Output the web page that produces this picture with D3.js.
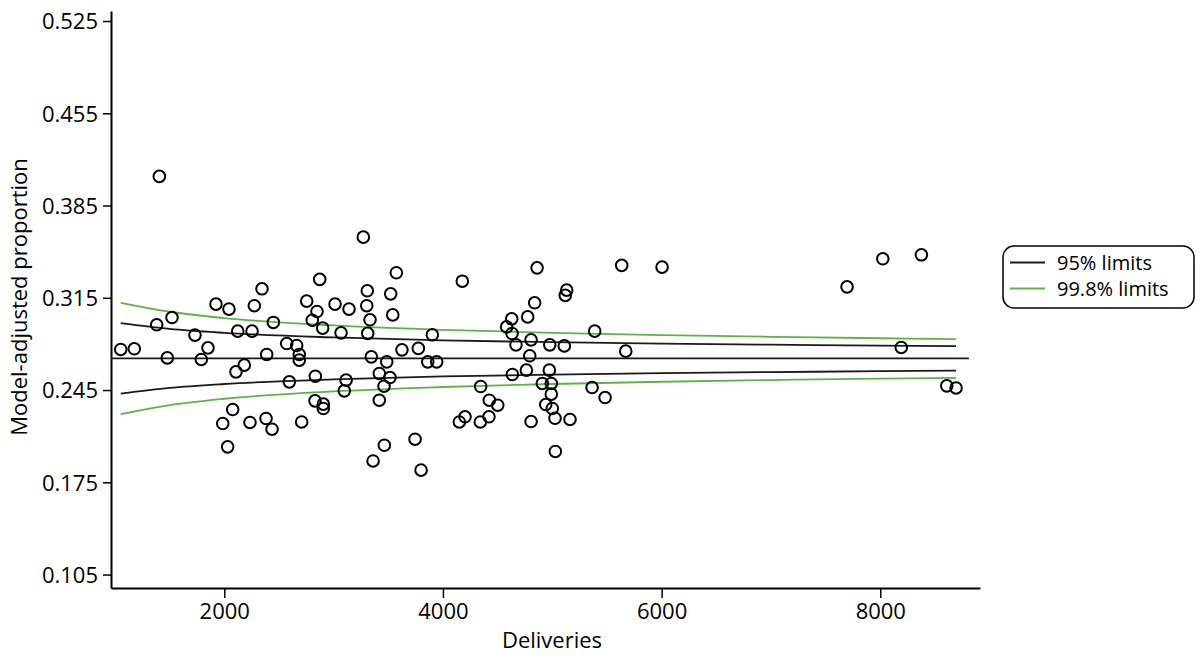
<!DOCTYPE html>
<html>
<head>
<meta charset="utf-8">
<script src="https://cdn.jsdelivr.net/npm/d3@7"></script>
<style>
  body { margin: 0; background: #fff; }
  svg { display: block; font-family: "Open Sans", "Noto Sans", sans-serif; }
</style>
</head>
<body>
<div id="chart"></div>
<script>
const width = 1203
    , height = 655
    , lineBlack = '#1a1a1a'
    , lineGreen = '#5db446'
    , fontSize = '22px'
    ;

// units: deliveries per unit, model-adjusted proportion
const deliveries = [
  1406, 3272, 3574, 2873, 2345, 3308, 3522, 1924, 2043, 2275,
  2754, 3013, 3141, 3303, 2848, 2805, 3333, 3541, 1522, 1382,
  2449, 2900, 3312, 3068, 1732, 2123, 2254, 1053, 1177, 1479,
  1790, 1851, 2571, 2662, 2388, 2686, 2686, 3625, 3345, 3486,
  2183, 2107, 3418, 3516, 3461, 2595, 2833, 3114, 3098, 3418,
  2830, 2906, 2906, 2077, 1986, 2235, 2382, 2437, 2708, 2031,
  3464, 3361, 3903, 3775, 3861, 3943, 3745, 3800, 4177, 4861,
  5132, 5119, 4839, 4775, 4629, 4583, 4632, 5388, 4668, 4806,
  4977, 5110, 4794, 4635, 4763, 4973, 4909, 4991, 4991, 5364,
  4345, 4424, 4501, 4421, 4202, 4150, 4342, 4940, 5000, 5025,
  4806, 5162, 5028, 5635, 6004, 5672, 5483, 7696, 8023, 8376,
  8192, 8608, 8693
];
const proportion = [
  0.4071, 0.3610, 0.3340, 0.3290, 0.3218, 0.3203, 0.3180, 0.3102, 0.3064, 0.3090,
  0.3125, 0.3102, 0.3064, 0.3090, 0.3046, 0.2980, 0.2983, 0.3020, 0.3000, 0.2945,
  0.2963, 0.2920, 0.2880, 0.2884, 0.2867, 0.2897, 0.2897, 0.2758, 0.2763, 0.2694,
  0.2682, 0.2770, 0.2803, 0.2788, 0.2720, 0.2720, 0.2677, 0.2755, 0.2702, 0.2664,
  0.2639, 0.2588, 0.2576, 0.2545, 0.2479, 0.2512, 0.2555, 0.2525, 0.2444, 0.2373,
  0.2368, 0.2343, 0.2310, 0.2302, 0.2196, 0.2204, 0.2234, 0.2153, 0.2208, 0.2019,
  0.2031, 0.1912, 0.2869, 0.2766, 0.2664, 0.2664, 0.2077, 0.1842, 0.3276, 0.3377,
  0.3208, 0.3168, 0.3112, 0.3005, 0.2990, 0.2929, 0.2879, 0.2897, 0.2793, 0.2831,
  0.2793, 0.2785, 0.2710, 0.2568, 0.2601, 0.2601, 0.2500, 0.2500, 0.2419, 0.2469,
  0.2477, 0.2373, 0.2335, 0.2247, 0.2247, 0.2208, 0.2208, 0.2340, 0.2310, 0.2236,
  0.2211, 0.2227, 0.1984, 0.3396, 0.3383, 0.2745, 0.2393, 0.3233, 0.3446, 0.3476,
  0.2773, 0.2482, 0.2466
];

// funnel limits
const limitX    = [1053, 1500, 2000, 3000, 4000, 5000, 6000, 7000, 8000, 8693];
const upper95   = [0.2958, 0.2914, 0.2884, 0.2849, 0.2827, 0.2813, 0.2802, 0.2794, 0.2787, 0.2783];
const lower95   = [0.2422, 0.2466, 0.2496, 0.2531, 0.2553, 0.2567, 0.2578, 0.2586, 0.2593, 0.2597];
const upper998  = [0.3112, 0.3044, 0.2996, 0.2940, 0.2907, 0.2884, 0.2867, 0.2854, 0.2843, 0.2837];
const lower998  = [0.2268, 0.2336, 0.2384, 0.2440, 0.2473, 0.2496, 0.2513, 0.2526, 0.2537, 0.2543];
const centreX   = [964, 8810];
const centreVal = 0.269;

const xTicks = [2000, 4000, 6000, 8000];
const yTicks = [0.105, 0.175, 0.245, 0.315, 0.385, 0.455, 0.525];
const legendItems = [
  { label: '95% limits', color: lineBlack },
  { label: '99.8% limits', color: lineGreen }
];

const x = d3.scaleLinear().domain([964, 8912]).range([111, 980]);
const y = d3.scaleLinear().domain([0.0948, 0.5326]).range([588, 11]);

const svg = d3.select('#chart')
  .append('svg')
  .attr('width', width)
  .attr('height', height);

// axes
const xAxis = svg.append('g')
  .attr('transform', `translate(0,${y.range()[0]})`)
  .call(d3.axisBottom(x).tickValues(xTicks).tickFormat(d3.format('d')).tickSize(10).tickSizeOuter(0).tickPadding(5));

const yAxis = svg.append('g')
  .attr('transform', `translate(${x.range()[0]},0)`)
  .call(d3.axisLeft(y).tickValues(yTicks).tickFormat(d3.format('.3f')).tickSize(8).tickSizeOuter(0).tickPadding(5));

[xAxis, yAxis].forEach(g => {
  g.select('.domain').attr('stroke', '#000').attr('stroke-width', 2);
  g.selectAll('.tick line').attr('stroke', '#000').attr('stroke-width', 1.5);
  g.selectAll('.tick text')
    .attr('fill', '#000')
    .style('font-size', fontSize)
    .style('font-family', '"Open Sans", sans-serif');
});
yAxis.selectAll('.tick text').attr('dy', '0.36em');

svg.append('text')
  .attr('x', 552)
  .attr('y', 648)
  .attr('text-anchor', 'middle')
  .style('font-size', fontSize)
  .text('Deliveries');

svg.append('text')
  .attr('transform', 'translate(27,297) rotate(-90)')
  .attr('text-anchor', 'middle')
  .style('font-size', fontSize)
  .text('Model-adjusted proportion');

// centre line and funnel limits
const line = d3.line()
  .x(d => x(d[0]))
  .y(d => y(d[1]))
  .curve(d3.curveMonotoneX);

svg.append('path')
  .attr('d', line(centreX.map(v => [v, centreVal])))
  .attr('fill', 'none')
  .attr('stroke', lineBlack)
  .attr('stroke-width', 1.8);

[[upper998, lineGreen], [lower998, lineGreen], [upper95, lineBlack], [lower95, lineBlack]]
  .forEach(([vals, col]) => {
    svg.append('path')
      .attr('d', line(limitX.map((v, i) => [v, vals[i]])))
      .attr('fill', 'none')
      .attr('stroke', col)
      .attr('stroke-width', 1.8);
  });

// units
svg.append('g')
  .selectAll('circle')
  .data(deliveries.map((d, i) => [d, proportion[i]]))
  .join('circle')
    .attr('cx', d => x(d[0]))
    .attr('cy', d => y(d[1]))
    .attr('r', 5.8)
    .attr('fill', 'none')
    .attr('stroke', '#000')
    .attr('stroke-width', 2);

// legend
const legend = svg.append('g').attr('transform', 'translate(1003,246)');
legend.append('rect')
  .attr('width', 191)
  .attr('height', 62)
  .attr('rx', 11)
  .attr('fill', '#fff')
  .attr('stroke', '#000')
  .attr('stroke-width', 1.5);

const li = legend.selectAll('g.item')
  .data(legendItems)
  .join('g')
    .attr('class', 'item')
    .attr('transform', (d, i) => `translate(0,${16.5 + i * 26})`);
li.append('line')
  .attr('x1', 7).attr('x2', 42)
  .attr('stroke', d => d.color)
  .attr('stroke-width', 1.8);
li.append('text')
  .attr('x', 54)
  .attr('dy', '0.35em')
  .style('font-size', '20px')
  .text(d => d.label);
</script>
</body>
</html>
